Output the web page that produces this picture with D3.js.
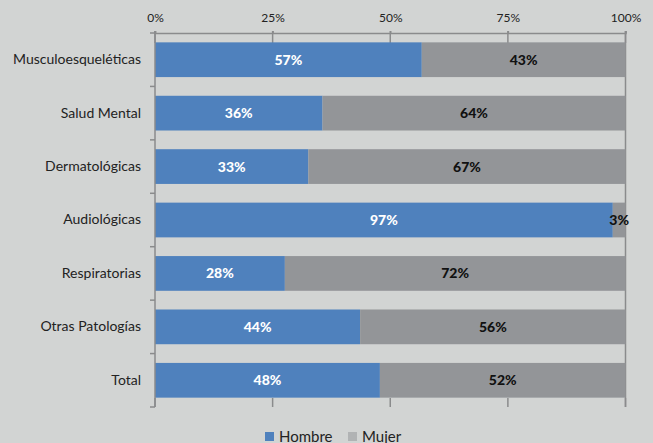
<!DOCTYPE html>
<html><head><meta charset="utf-8">
<script src="https://cdn.jsdelivr.net/npm/d3@7"></script>
<style>html,body{margin:0;padding:0;background:#d2d4d3;}svg{display:block;}</style>
</head><body>
<svg id="c" width="653" height="443"></svg>
<script>
const categories = ["Musculoesqueléticas","Salud Mental","Dermatológicas","Audiológicas","Respiratorias","Otras Patologías","Total"];
const hombre = [56.7, 35.6, 32.6, 97.3, 27.6, 43.6, 47.8];
const mujer  = [43.3, 64.4, 67.4, 2.7, 72.4, 56.4, 52.2];
const tickValues = [0, 25, 50, 75, 100];
const tickLabels = ["0%","25%","50%","75%","100%"];
const series = ["Hombre","Mujer"];

const svg = d3.select("#c");
const W = 653, H = 443;
svg.append("rect").attr("width",W).attr("height",H).attr("fill","#d2d4d3");
const L = 155, R = 625.5, T = 33, B = 407;
const axisCol = "#8a8b8c";
const font = "Lato, 'Open Sans', sans-serif";

const x = d3.scaleLinear().domain([0,100]).range([L,R]);
const y = d3.scaleBand().domain(categories).range([T,B]).paddingInner(0.35).paddingOuter(0.175);
const yb = d3.scaleBand().domain(categories).range([T,B]);

const data = categories.map((c,i)=>({c, h:hombre[i], m:mujer[i]}));

const g = svg.append("g");
tickValues.forEach(v=>{
  g.append("line").attr("x1",x(v)).attr("x2",x(v)).attr("y1",T-2).attr("y2",T+10)
   .attr("stroke",axisCol).attr("stroke-width",1.5);
  g.append("line").attr("x1",x(v)).attr("x2",x(v)).attr("y1",B-9).attr("y2",B)
   .attr("stroke",axisCol).attr("stroke-width",1.5);
});
g.append("line").attr("x1",x(100)).attr("x2",x(100)).attr("y1",T-2).attr("y2",B)
 .attr("stroke",axisCol).attr("stroke-width",1.5);

const bars = svg.append("g");
bars.selectAll("rect.h").data(data).join("rect").attr("class","h")
  .attr("x",x(0)).attr("y",d=>y(d.c)).attr("width",d=>x(d.h)-x(0)).attr("height",y.bandwidth())
  .attr("fill","#4f81bd");
bars.selectAll("rect.m").data(data).join("rect").attr("class","m")
  .attr("x",d=>x(d.h)).attr("y",d=>y(d.c)).attr("width",d=>x(d.h+d.m)-x(d.h)).attr("height",y.bandwidth())
  .attr("fill","#939598");

bars.selectAll("text.h").data(data).join("text").attr("class","h")
  .attr("x",d=>(x(0)+x(d.h))/2).attr("y",d=>y(d.c)+y.bandwidth()/2+5)
  .attr("text-anchor","middle").attr("font-family",font).attr("font-weight","900").attr("font-size",14)
  .attr("fill","#fff").text(d=>Math.round(d.h)+"%");
bars.selectAll("text.m").data(data).join("text").attr("class","m")
  .attr("x",d=>(x(d.h)+x(d.h+d.m))/2).attr("y",d=>y(d.c)+y.bandwidth()/2+5)
  .attr("text-anchor","middle").attr("font-family",font).attr("font-weight","900").attr("font-size",14)
  .attr("fill","#111").text(d=>Math.round(d.m)+"%");

const xa = svg.append("g").attr("transform",`translate(0,${T})`)
  .call(d3.axisTop(x).tickValues(tickValues).tickFormat((d,i)=>tickLabels[i]).tickSize(2).tickPadding(9));
xa.select(".domain").attr("stroke",axisCol).attr("stroke-width",1.5);
xa.selectAll(".tick line").attr("stroke",axisCol).attr("stroke-width",1.5);
xa.selectAll("text").attr("font-family",font).attr("font-size",12).attr("fill","#222");

const ya = svg.append("g").attr("transform",`translate(${L},0)`)
  .call(d3.axisLeft(y).tickSize(0).tickPadding(14));
ya.select(".domain").remove();
ya.selectAll("text").attr("font-family",font).attr("font-size",14).attr("fill","#222");
svg.append("line").attr("x1",L).attr("x2",L).attr("y1",T-2).attr("y2",B)
  .attr("stroke",axisCol).attr("stroke-width",1.5);
const bounds = categories.map(c=>yb(c)).concat([B]);
svg.selectAll("line.bt").data(bounds).join("line").attr("class","bt")
  .attr("x1",L-5).attr("x2",L).attr("y1",d=>d).attr("y2",d=>d)
  .attr("stroke",axisCol).attr("stroke-width",1.5);

const leg = svg.append("g");
const legCols = ["#4f81bd","#b1b3b4"];
const legX = [265, 348];
series.forEach((s,i)=>{
  leg.append("rect").attr("x",legX[i]).attr("y",432).attr("width",9).attr("height",9).attr("fill",legCols[i]);
  leg.append("text").attr("x",legX[i]+14).attr("y",441.5).attr("font-family",font).attr("font-size",15)
    .attr("fill","#222").text(s);
});
</script>
</body></html>
